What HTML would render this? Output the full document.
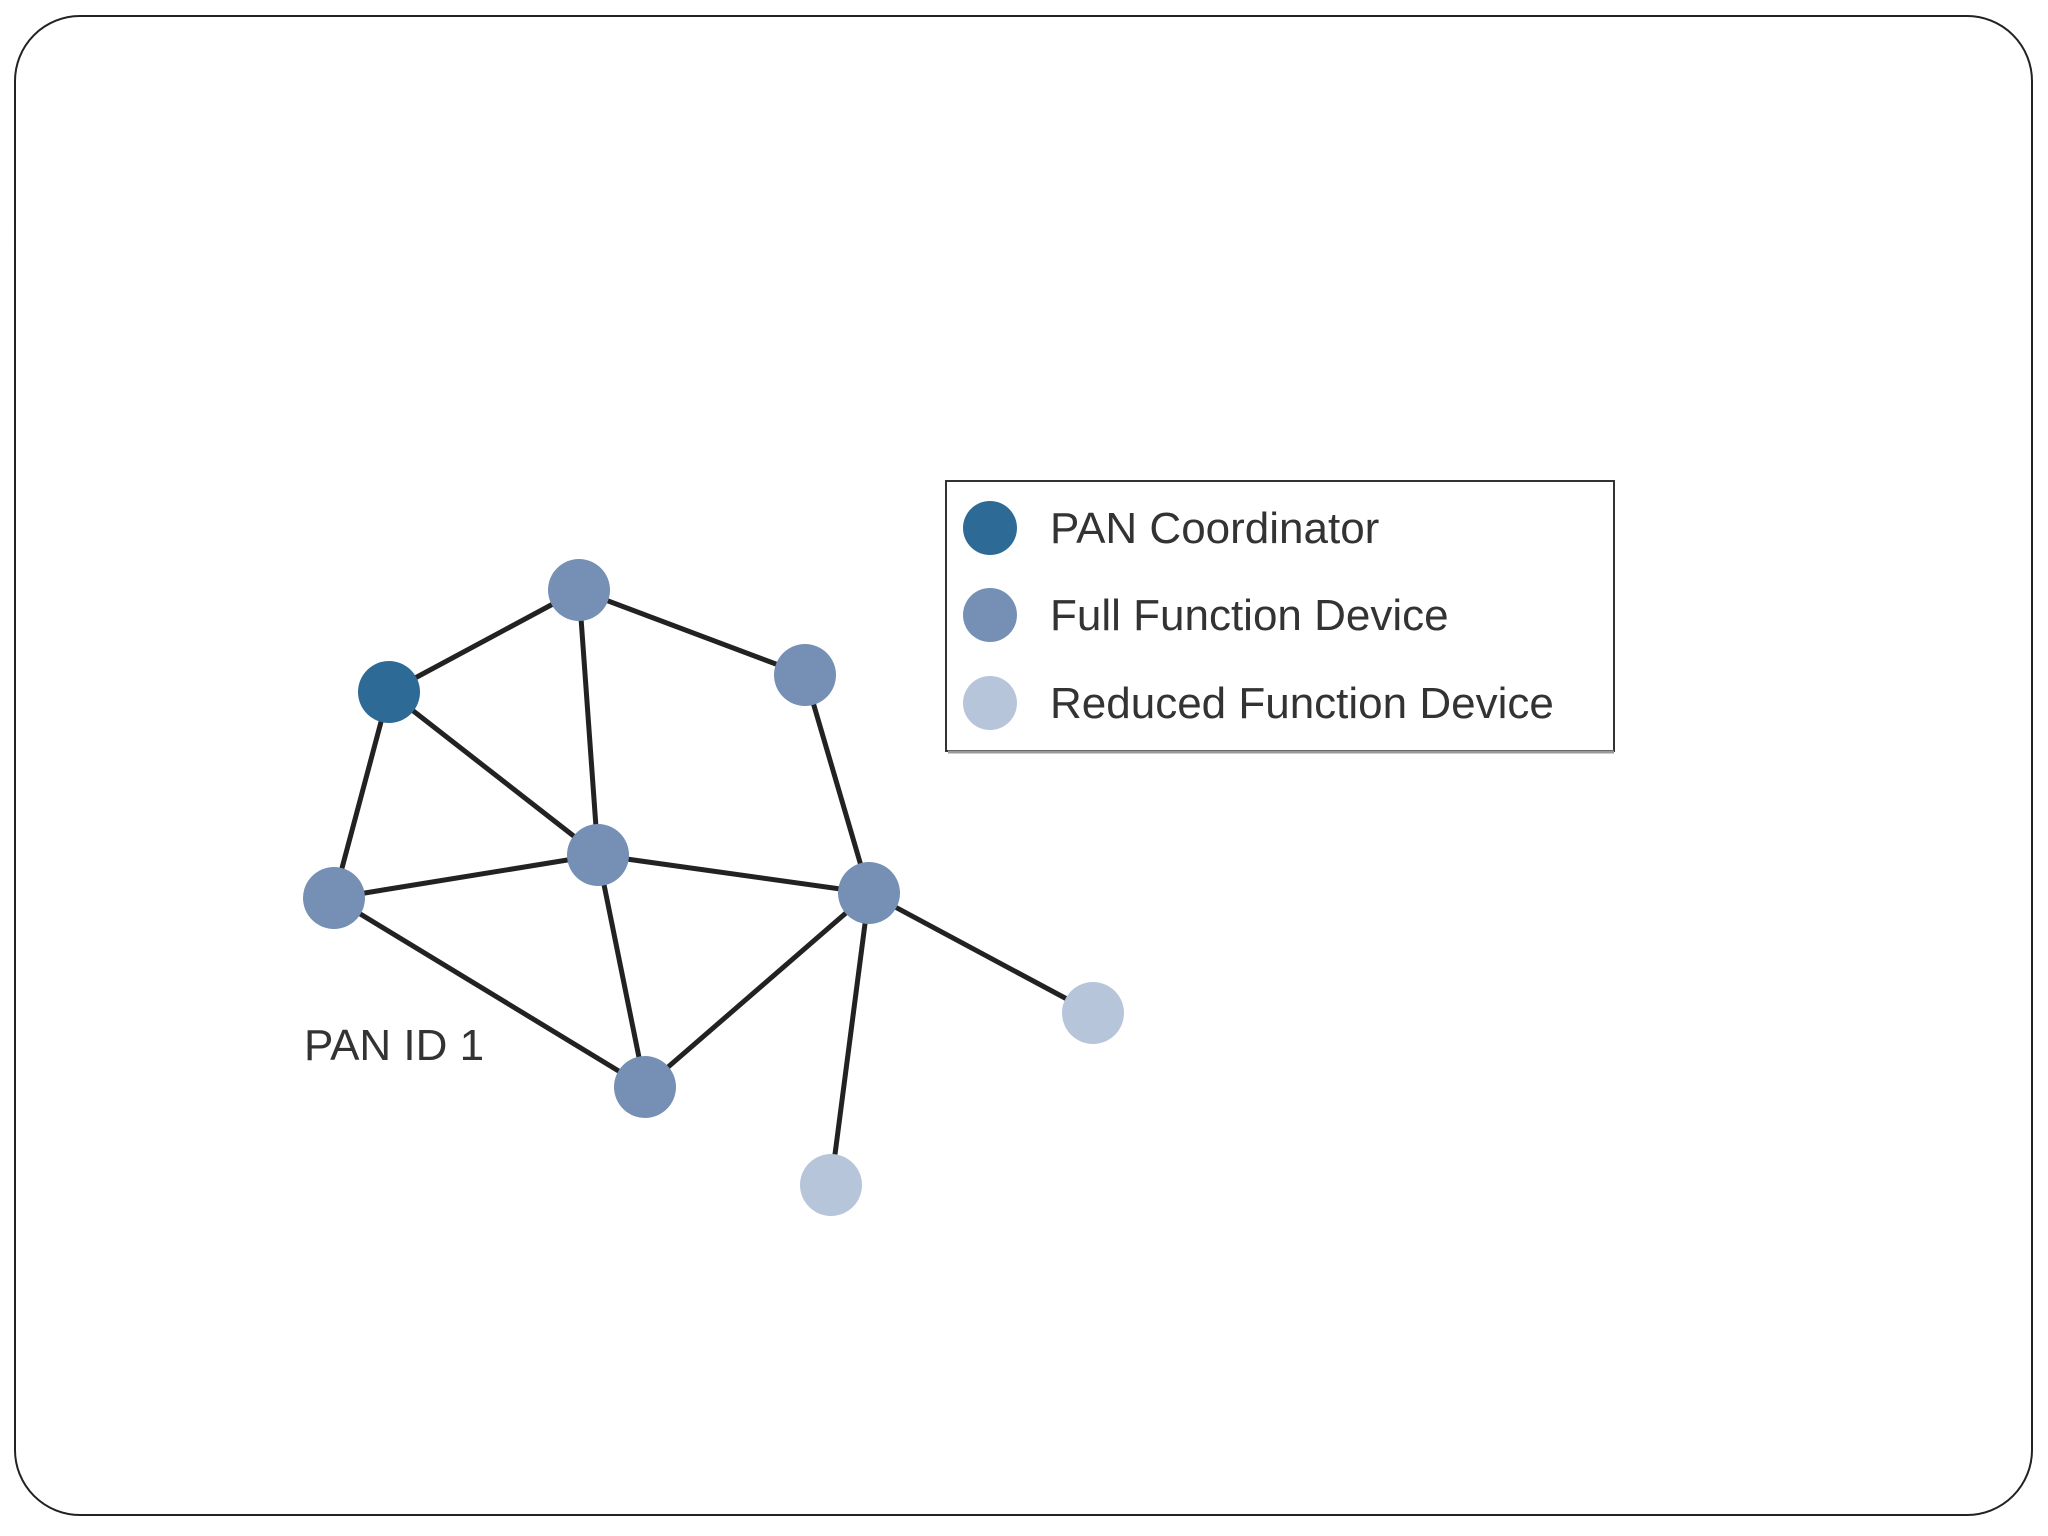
<!DOCTYPE html>
<html><head><meta charset="utf-8"><style>
html,body{margin:0;padding:0;background:#fff;}
svg{display:block;}
text{font-family:"Liberation Sans",sans-serif;fill:#333;}
</style></head><body>
<svg width="2048" height="1536" viewBox="0 0 2048 1536" xmlns="http://www.w3.org/2000/svg">
<rect x="15" y="16" width="2017" height="1499" rx="65" ry="65" fill="#fff" stroke="#222" stroke-width="2"/>
<g stroke="#222" stroke-width="5">
<line x1="389" y1="692" x2="579" y2="590"/>
<line x1="579" y1="590" x2="805" y2="675"/>
<line x1="389" y1="692" x2="334" y2="898"/>
<line x1="389" y1="692" x2="598" y2="855"/>
<line x1="579" y1="590" x2="598" y2="855"/>
<line x1="805" y1="675" x2="869" y2="893"/>
<line x1="334" y1="898" x2="598" y2="855"/>
<line x1="598" y1="855" x2="869" y2="893"/>
<line x1="334" y1="898" x2="645" y2="1087"/>
<line x1="598" y1="855" x2="645" y2="1087"/>
<line x1="645" y1="1087" x2="869" y2="893"/>
<line x1="869" y1="893" x2="1093" y2="1013"/>
<line x1="869" y1="893" x2="831" y2="1185"/>
</g>
<g>
<circle cx="389" cy="692" r="31" fill="#2e6a96"/>
<circle cx="579" cy="590" r="31" fill="#7590b4"/>
<circle cx="805" cy="675" r="31" fill="#7590b4"/>
<circle cx="598" cy="855" r="31" fill="#7590b4"/>
<circle cx="334" cy="898" r="31" fill="#7590b4"/>
<circle cx="869" cy="893" r="31" fill="#7590b4"/>
<circle cx="645" cy="1087" r="31" fill="#7590b4"/>
<circle cx="1093" cy="1013" r="31" fill="#b7c5da"/>
<circle cx="831" cy="1185" r="31" fill="#b7c5da"/>
</g>
<text x="304" y="1060" font-size="44">PAN ID 1</text>
<rect x="946" y="481" width="668" height="270" fill="#fff" stroke="#333" stroke-width="2"/>
<line x1="948" y1="752" x2="1614" y2="752" stroke="#999" stroke-width="3"/>
<circle cx="990" cy="528" r="27" fill="#2e6a96"/>
<circle cx="990" cy="615" r="27" fill="#7590b4"/>
<circle cx="990" cy="703" r="27" fill="#b7c5da"/>
<text x="1050" y="543" font-size="44">PAN Coordinator</text>
<text x="1050" y="630" font-size="44">Full Function Device</text>
<text x="1050" y="718" font-size="44">Reduced Function Device</text>
</svg>
</body></html>
